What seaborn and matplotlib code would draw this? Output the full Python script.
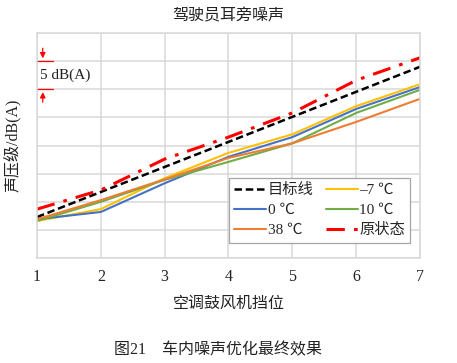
import matplotlib
matplotlib.use("Agg")
import matplotlib.pyplot as plt
import numpy as np
import pandas as pd
import seaborn as sns

# data (grid step = 5 dB(A), absolute level not shown)
gears = [1, 2, 3, 4, 5, 6, 7]
target = [37.3, 41.75, 46.2, 50.65, 55.1, 59.55, 64.0]
minus7 = [36.6, 38.7, 44.2, 48.7, 52.0, 57.0, 60.9]
zero = [36.9, 38.2, 43.3, 48.0, 51.5, 56.5, 60.4]
ten = [36.6, 40.0, 43.9, 47.1, 50.4, 55.8, 59.9]
t38 = [36.9, 40.3, 44.0, 47.8, 50.4, 54.2, 58.3]
original = [38.7, 42.1, 47.6, 51.5, 55.8, 61.6, 65.6]

series_names = ["目标线", "–7 ℃", "0 ℃", "10 ℃", "38 ℃", "原状态"]
series_values = [target, minus7, zero, ten, t38, original]
colors = ["black", "#FFC000", "#4472C4", "#70AD47", "#ED7D31", "#FF0000"]
dashes = [(3, 1.5), None, None, None, None, (6, 3, 1.2, 3)]
widths = [1.8, 1.5, 1.5, 1.5, 1.5, 2.2]

df = pd.DataFrame({
    "gear": gears * len(series_names),
    "level": sum(series_values, []),
    "series": sum([[n] * len(gears) for n in series_names], []),
})

sns.set_theme(style="whitegrid")
plt.rcParams["font.family"] = ["Liberation Serif", "Noto Sans CJK SC", "DejaVu Sans"]

fig = plt.figure(figsize=(4.57, 3.63), dpi=100)
ax = fig.add_axes([0.081, 0.289, 0.838, 0.62])

handles = {}
for name, col, dsh, lw in zip(series_names, colors, dashes, widths):
    sub = df[df["series"] == name]
    sns.lineplot(data=sub, x="gear", y="level", color=col, linewidth=lw, ax=ax, label=name)
    line = ax.lines[-1]
    if dsh is not None:
        line.set_dashes(dsh)
    handles[name] = line

ax.set_xlim(1, 7)
ax.set_ylim(30, 70)
ax.set_xticks(gears)
ax.set_yticks(np.arange(30, 71, 5))
ax.set_yticklabels([])
ax.tick_params(axis="both", length=0, labelsize=11.5, colors="#222222")
ax.tick_params(axis="x", pad=8)
ax.grid(True, color="#D9D9D9", linewidth=1.1)
for s in ax.spines.values():
    s.set_color("#D9D9D9")
    s.set_linewidth(1.1)

ax.set_title("驾驶员耳旁噪声", fontsize=11.5, pad=9, color="#222222")
ax.set_xlabel("空调鼓风机挡位", fontsize=11.5, labelpad=8, color="#222222")
ax.set_ylabel("声压级/dB(A)", fontsize=11.5, labelpad=8, color="#222222")

# 5 dB(A) scale marker
ax.plot([1.0, 1.25], [65, 65], color="red", lw=0.9, clip_on=False)
ax.plot([1.0, 1.25], [60, 60], color="red", lw=0.9, clip_on=False)
ax.annotate("", xy=(1.09, 65), xytext=(1.09, 67.8),
            arrowprops=dict(arrowstyle="-|>", color="red", lw=0.9, mutation_scale=8))
ax.annotate("", xy=(1.09, 60), xytext=(1.09, 57.2),
            arrowprops=dict(arrowstyle="-|>", color="red", lw=0.9, mutation_scale=8))
ax.text(1.04, 62.5, "5 dB(A)", fontsize=11, va="center", ha="left", color="#222222")

order = ["目标线", "0 ℃", "38 ℃", "–7 ℃", "10 ℃", "原状态"]
leg = ax.legend([handles[n] for n in order], order, ncol=2, loc="lower right",
                bbox_to_anchor=(0.995, 0.035), fontsize=11, frameon=True,
                fancybox=False, edgecolor="#A6A6A6", framealpha=1,
                handlelength=2.1, handletextpad=0.1, columnspacing=0.8,
                labelspacing=0.4, borderpad=0.35)
leg.get_frame().set_linewidth(0.9)

fig.text(0.478, 0.025, "图21　车内噪声优化最终效果", fontsize=11.5, ha="center", color="#222222")

fig.savefig("out.png", dpi=100)
